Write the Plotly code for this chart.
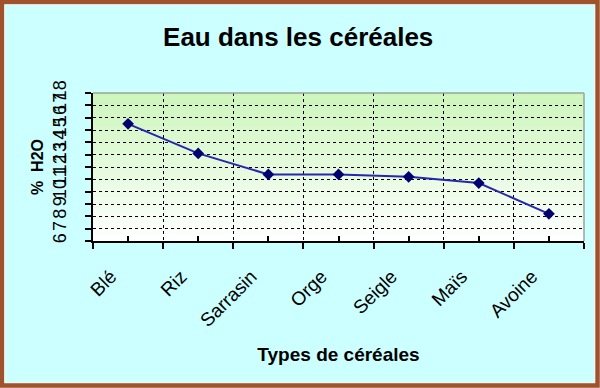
import plotly.graph_objects as go

categories = ["Blé", "Riz", "Sarrasin", "Orge", "Seigle", "Maïs", "Avoine"]
water_pct = [15.5, 13.1, 11.4, 11.4, 11.2, 10.7, 8.2]
y_ticks = list(range(6, 19))

title_text = "Eau dans les céréales"
x_title = "Types de céréales"
y_title = "%  H2O"

FONT = "Liberation Sans, Arial, sans-serif"
W, H = 600, 388
ML, MR, MT, MB = 93, 16, 93, 147
PW, PH = W - ML - MR, H - MT - MB

fig = go.Figure()
fig.add_trace(go.Scatter(
    x=categories, y=water_pct, mode="lines+markers",
    line=dict(color="#2626B0", width=2),
    marker=dict(symbol="diamond", size=9, color="#000070"),
    showlegend=False, hoverinfo="x+y",
))
# invisible trace to activate xaxis2 (minor ticks at category centres)
fig.add_trace(go.Scatter(x=[None], y=[None], xaxis="x2", yaxis="y",
                         showlegend=False, hoverinfo="skip"))

shapes = []
n = 40
for i in range(n):
    t = i / (n - 1)  # 0 bottom -> 1 top
    r = int(255 + (206 - 255) * t)
    g = int(255 + (246 - 255) * t)
    b = int(255 + (188 - 255) * t)
    shapes.append(dict(type="rect", xref="x domain", yref="y domain",
                       x0=0, x1=1, y0=i / n, y1=(i + 1) / n + 0.002,
                       fillcolor=f"rgb({r},{g},{b})", line=dict(width=0),
                       layer="below"))
# plot area top/right grey frame
shapes.append(dict(type="line", xref="x domain", yref="y domain", x0=0, x1=1, y0=1, y1=1,
                   line=dict(color="#9AA59A", width=1.5), layer="above"))
shapes.append(dict(type="line", xref="x domain", yref="y domain", x0=1, x1=1, y0=0, y1=1,
                   line=dict(color="#9AA59A", width=1.5), layer="above"))


def px_x(p):
    return (p - ML) / PW


def px_y(p):
    return (H - MB - p) / PH


# outer brown frame and thin white inner line
shapes.append(dict(type="rect", xref="paper", yref="paper",
                   x0=px_x(2), x1=px_x(W - 2.5), y0=px_y(H - 2.5), y1=px_y(2),
                   line=dict(color="#A0522D", width=4.5), fillcolor="rgba(0,0,0,0)",
                   layer="above"))
shapes.append(dict(type="rect", xref="paper", yref="paper",
                   x0=px_x(5), x1=px_x(W - 5.5), y0=px_y(H - 5.5), y1=px_y(5),
                   line=dict(color="#F4F4F0", width=1.2), fillcolor="rgba(0,0,0,0)",
                   layer="above"))

fig.update_layout(
    width=W, height=H,
    margin=dict(l=ML, r=MR, t=MT, b=MB),
    paper_bgcolor="#CCFFFF",
    plot_bgcolor="rgba(0,0,0,0)",
    font=dict(family=FONT, color="black"),
    title=dict(text=f"<b>{title_text}</b>", x=0.497, xanchor="center",
               y=1 - 37 / H, yanchor="middle", yref="container",
               font=dict(size=26, family=FONT, color="black")),
    shapes=shapes,
    xaxis=dict(
        type="category", categoryarray=categories, range=[-0.5, len(categories) - 0.5],
        tickson="boundaries", ticks="outside", ticklen=6, tickcolor="black", tickwidth=1.5,
        showline=True, linecolor="black", linewidth=2,
        showgrid=True, gridcolor="black", griddash="dot", gridwidth=1,
        tickangle=-45, tickfont=dict(size=19, family=FONT),
        ticklabelstandoff=15, ticklabelshift=-17,
        title=dict(text=f"<b>{x_title}</b>", font=dict(size=19, family=FONT), standoff=18),
        zeroline=False, automargin=False,
    ),
    xaxis2=dict(
        overlaying="x", range=[-0.5, len(categories) - 0.5],
        tickvals=list(range(len(categories))), showticklabels=False,
        ticks="inside", ticklen=5, tickcolor="black", tickwidth=1.5,
        showgrid=False, showline=False, zeroline=False, anchor="y", automargin=False,
    ),
    yaxis=dict(
        range=[6, 18], tickvals=y_ticks, ticks="outside", ticklen=6,
        tickcolor="black", tickwidth=1.5,
        showline=True, linecolor="black", linewidth=2,
        showgrid=True, gridcolor="black", griddash="dot", gridwidth=1,
        tickangle=-90, tickfont=dict(size=18, family=FONT), ticklabelstandoff=12,
        title=dict(text=f"<b>{y_title}</b>", font=dict(size=16, family=FONT), standoff=2),
        zeroline=False, automargin=False,
    ),
)

fig.write_html("out.html", config={"displayModeBar": False},
               post_script="document.body.style.margin='0';")
